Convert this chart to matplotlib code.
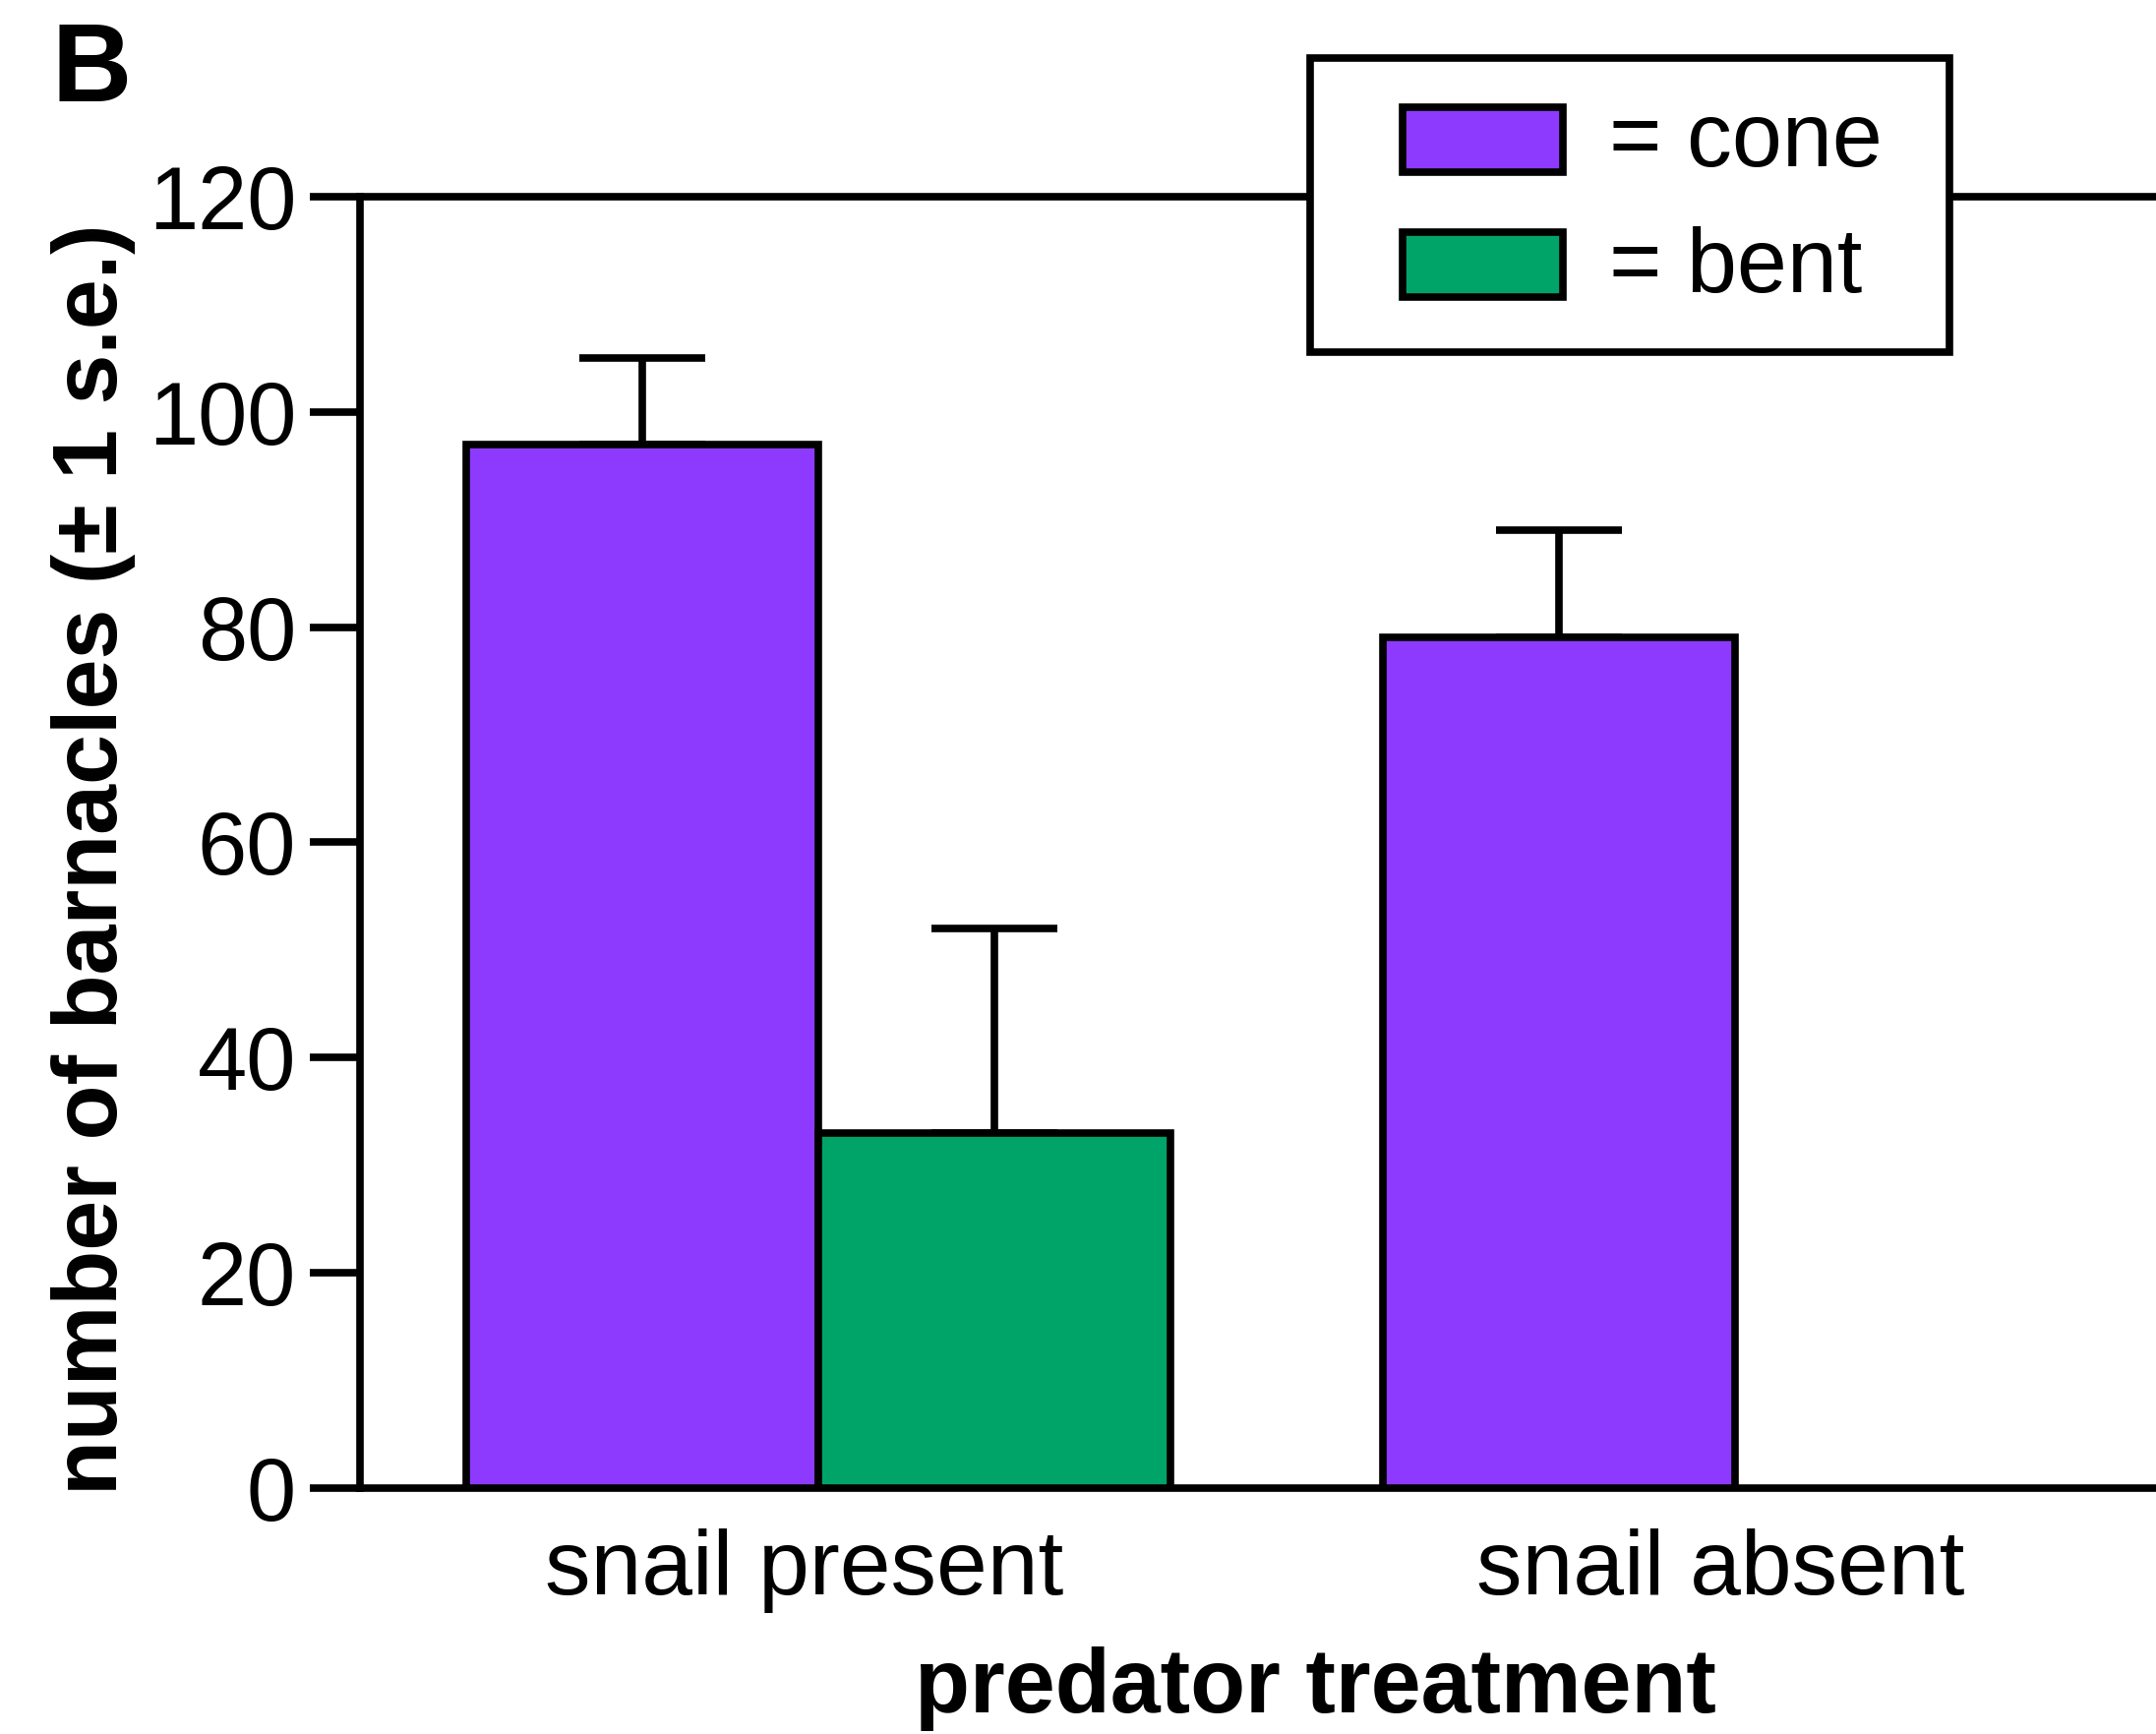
import numpy as np
import matplotlib
matplotlib.use('Agg')
import matplotlib.pyplot as plt
from matplotlib.patches import Rectangle
from matplotlib.transforms import ScaledTranslation

plt.rcParams['font.family'] = ['Liberation Sans', 'DejaVu Sans']

# barnacle counts per predator treatment
treatments = ['snail present', 'snail absent']
cone_mean = [97, 79]
cone_se = [8, 10]
bent_mean = [33, 0]
bent_se = [19, 0]

purple = '#8E3AFE'
green = '#00A468'
lw = 5.5

fig = plt.figure(figsize=(21.92, 17.63), dpi=100)
ax = fig.add_axes([0.1671, 0.142, 0.8501, 0.7446])

x = np.arange(len(treatments))
w = 0.384

ax.bar(x - w / 2, cone_mean, w, color=purple, edgecolor='black', linewidth=lw, zorder=3)
bent_x = x + w / 2
has_bent = np.array(bent_mean) > 0
ax.bar(bent_x[has_bent], np.array(bent_mean)[has_bent], w, color=green,
       edgecolor='black', linewidth=lw, zorder=3)

# one-sided error bars (+1 s.e.)
ax.errorbar(x - w / 2, cone_mean, yerr=[np.zeros(len(x)), cone_se], fmt='none',
            ecolor='black', elinewidth=lw, capsize=46, capthick=lw, zorder=2)
ax.errorbar(bent_x[has_bent], np.array(bent_mean)[has_bent],
            yerr=[np.zeros(has_bent.sum()), np.array(bent_se)[has_bent]], fmt='none',
            ecolor='black', elinewidth=lw, capsize=46, capthick=lw, zorder=2)

ax.set_xlim(-0.5, 1.5)
ax.set_ylim(0, 120)
ax.set_yticks(np.arange(0, 121, 20))
ax.set_xticks(x)
ax.set_xticklabels(treatments)
ax.tick_params(axis='y', length=37, width=lw, pad=10, labelsize=65)
ax.tick_params(axis='x', length=0, pad=30, labelsize=67)
shift = ScaledTranslation(-0.15, 0, fig.dpi_scale_trans)
for lab in ax.get_xticklabels():
    lab.set_transform(lab.get_transform() + shift)
ax.spines['right'].set_visible(False)
for s in ['left', 'bottom', 'top']:
    ax.spines[s].set_linewidth(lw)

fig.text(0.0434, 0.5044, 'number of barnacles (± 1 s.e.)', rotation=90,
         ha='center', va='center', fontsize=66, fontweight='bold')
fig.text(0.61, 0.026, 'predator treatment', ha='center', va='center',
         fontsize=66, fontweight='bold')
fig.text(0.024, 0.988, 'B', ha='left', va='top', fontsize=81, fontweight='bold')

# legend box drawn by hand, sitting on top of the upper spine
fig.patches.append(Rectangle((0.6078, 0.797), 0.2965, 0.1697, transform=fig.transFigure,
                             facecolor='white', edgecolor='black', linewidth=lw, zorder=10))
for (label, col, y0) in [('= cone', purple, 0.9009), ('= bent', green, 0.8287)]:
    fig.patches.append(Rectangle((0.6505, y0), 0.0746, 0.0372, transform=fig.transFigure,
                                 facecolor=col, edgecolor='black', linewidth=lw, zorder=11))
    fig.text(0.7462, y0 + 0.0186 - 0.0155, label, ha='left', va='baseline',
             fontsize=66, zorder=12)

fig.savefig('out.png', dpi=100)
